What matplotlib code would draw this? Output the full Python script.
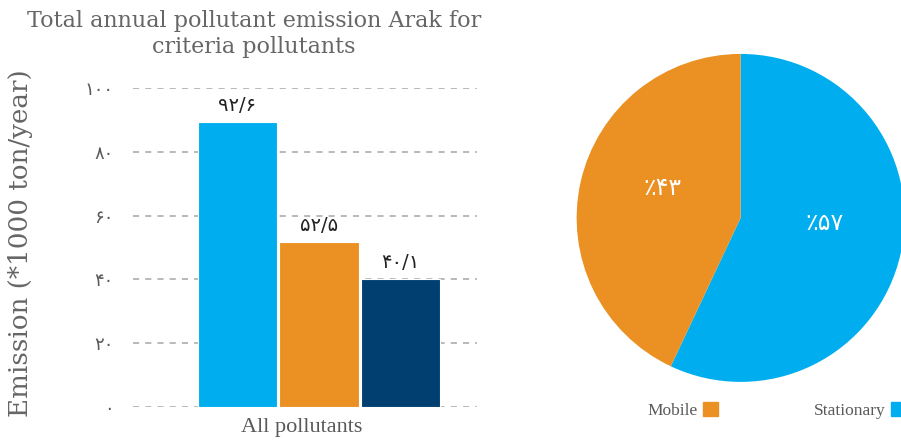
import matplotlib
matplotlib.use('Agg')
import matplotlib.pyplot as plt
from matplotlib.patches import Patch

# bar chart data (heights, labels as printed)
bar_values = [89.3, 51.7, 40.1]
bar_labels = ['۹۲/۶', '۵۲/۵', '۴۰/۱']
bar_colors = ['#00AEEF', '#EB9022', '#003F6F']
y_ticks = [0, 20, 40, 60, 80, 100]
y_tick_labels = ['۰', '۲۰', '۴۰', '۶۰', '۸۰', '۱۰۰']

# pie data
pie_names = ['Stationary', 'Mobile']
pie_values = [57, 43]
pie_labels = ['٪۵۷', '٪۴۳']
pie_colors = ['#00AEEF', '#EB9022']

grey = '#595959'

fig = plt.figure(figsize=(9.01, 4.42), dpi=100)

# left: bars
ax = fig.add_axes([0.148, 0.079, 0.381, 0.722])
xs = range(len(bar_values))
ax.bar(xs, bar_values, width=0.97, color=bar_colors, edgecolor='white', linewidth=0.8, zorder=3)
for x, v, lab in zip(xs, bar_values, bar_labels):
    ax.text(x, v + 2.2, lab, ha='center', va='bottom', fontsize=14, color='#222222',
            family='DejaVu Sans')
ax.set_xlim(-1.277, 2.934)
ax.set_ylim(0, 100)
ax.set_yticks(y_ticks)
ax.set_yticklabels(y_tick_labels, color=grey, fontsize=13, family='DejaVu Sans')
ax.tick_params(axis='y', length=0, pad=14)
ax.set_xticks([])
ax.yaxis.grid(True, linestyle=(0, (4, 4)), color='#A6A6A6', linewidth=1.1, zorder=0)
ax.set_axisbelow(True)
ax.set_facecolor('none')
for s in ax.spines.values():
    s.set_visible(False)
ax.set_xlabel('All pollutants', family='Liberation Serif', fontsize=16, color=grey)
ax.xaxis.set_label_coords(0.49, -0.033, transform=ax.transAxes)
ax.xaxis.label.set_va('top')
fig.text(0.023, 0.451, 'Emission (*1000 ton/year)', rotation=90, ha='center', va='center',
         family='DejaVu Serif', fontsize=18.8, color='#666666')
fig.text(0.282, 0.923, 'Total annual pollutant emission Arak for\ncriteria pollutants',
         ha='center', va='center', family='DejaVu Serif', fontsize=16, color='#666666',
         linespacing=1.2)

# right: pie
pax = fig.add_axes([0.640, 0.136, 0.364, 0.742])
wedges, _ = pax.pie(pie_values, colors=pie_colors, startangle=90, counterclock=False, radius=1)
pax.set_xlim(-1, 1)
pax.set_ylim(-1, 1)
pax.set_aspect('equal')
pax.text(0.51, -0.03, pie_labels[0], ha='center', va='center', color='white', fontsize=17,
         family='DejaVu Sans')
pax.text(-0.48, 0.18, pie_labels[1], ha='center', va='center', color='white', fontsize=17,
         family='DejaVu Sans')

handles = [Patch(color=pie_colors[1]), Patch(color=pie_colors[0])]
fig.legend(handles, [pie_names[1], pie_names[0]], loc='center', bbox_to_anchor=(0.862, 0.072),
           ncol=2, frameon=False, markerfirst=False, handlelength=0.9, handleheight=0.9,
           handletextpad=0.3, columnspacing=5.5,
           prop={'family': 'Liberation Serif', 'size': 12.5}, labelcolor=grey)

fig.savefig('out.png', dpi=100)
